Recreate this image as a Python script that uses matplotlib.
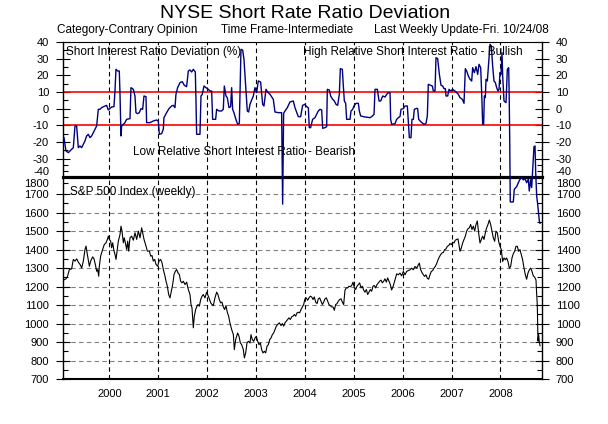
import matplotlib
matplotlib.use("Agg")
import matplotlib.pyplot as plt
from matplotlib.ticker import FuncFormatter
import numpy as np

plt.rcParams['font.family'] = ['Liberation Sans', 'DejaVu Sans']

# short interest ratio deviation (%), weekly
dev_year = [
    1999.073, 1999.114, 1999.162, 1999.230, 1999.264, 1999.298, 1999.332, 1999.366, 1999.400, 1999.434,
    1999.468, 1999.502, 1999.536, 1999.571, 1999.605, 1999.639, 1999.673, 1999.707, 1999.741, 1999.775,
    1999.809, 1999.843, 1999.911, 1999.945, 1999.980, 2000.014, 2000.048, 2000.095, 2000.116, 2000.136,
    2000.170, 2000.204, 2000.218, 2000.239, 2000.252, 2000.286, 2000.320, 2000.354, 2000.423, 2000.443,
    2000.491, 2000.525, 2000.545, 2000.579, 2000.613, 2000.648, 2000.682, 2000.709, 2000.750, 2000.763,
    2000.832, 2000.900, 2000.968, 2001.002, 2001.023, 2001.070, 2001.104, 2001.118, 2001.172, 2001.220,
    2001.275, 2001.309, 2001.343, 2001.363, 2001.397, 2001.445, 2001.493, 2001.534, 2001.581, 2001.616,
    2001.650, 2001.684, 2001.718, 2001.759, 2001.772, 2001.786, 2001.854, 2001.875, 2001.902, 2001.936,
    2001.977, 2002.025, 2002.059, 2002.093, 2002.113, 2002.175, 2002.195, 2002.243, 2002.297, 2002.331,
    2002.352, 2002.386, 2002.413, 2002.447, 2002.481, 2002.502, 2002.522, 2002.549, 2002.584, 2002.624,
    2002.659, 2002.693, 2002.727, 2002.754, 2002.788, 2002.822, 2002.849, 2002.877, 2002.911, 2002.945,
    2002.979, 2003.013, 2003.047, 2003.095, 2003.136, 2003.163, 2003.204, 2003.238, 2003.286, 2003.354,
    2003.388, 2003.456, 2003.524, 2003.545, 2003.565, 2003.593, 2003.640, 2003.695, 2003.763, 2003.797,
    2003.865, 2003.913, 2003.954, 2004.001, 2004.035, 2004.070, 2004.090, 2004.117, 2004.158, 2004.206,
    2004.274, 2004.310, 2004.343, 2004.364, 2004.411, 2004.445, 2004.459, 2004.500, 2004.527, 2004.568,
    2004.602, 2004.636, 2004.670, 2004.704, 2004.725, 2004.766, 2004.786, 2004.807, 2004.834, 2004.854,
    2004.923, 2004.943, 2004.977, 2005.004, 2005.045, 2005.093, 2005.113, 2005.141, 2005.229, 2005.332,
    2005.366, 2005.414, 2005.434, 2005.482, 2005.516, 2005.550, 2005.591, 2005.639, 2005.673, 2005.707,
    2005.741, 2005.754, 2005.775, 2005.843, 2005.877, 2005.911, 2005.945, 2005.966, 2006.013, 2006.047,
    2006.095, 2006.122, 2006.136, 2006.170, 2006.190, 2006.218, 2006.238, 2006.286, 2006.306, 2006.327,
    2006.368, 2006.409, 2006.443, 2006.477, 2006.504, 2006.524, 2006.572, 2006.606, 2006.627, 2006.661,
    2006.681, 2006.715, 2006.750, 2006.784, 2006.818, 2006.845, 2006.872, 2006.886, 2006.920, 2006.947,
    2006.981, 2007.022, 2007.070, 2007.104, 2007.138, 2007.172, 2007.220, 2007.254, 2007.281, 2007.308,
    2007.343, 2007.377, 2007.411, 2007.431, 2007.465, 2007.499, 2007.534, 2007.561, 2007.595, 2007.615,
    2007.636, 2007.656, 2007.670, 2007.690, 2007.704, 2007.731, 2007.758, 2007.786, 2007.813, 2007.840,
    2007.867, 2007.895, 2007.922, 2007.949, 2007.970, 2007.990, 2008.011, 2008.031, 2008.045, 2008.072,
    2008.113, 2008.140, 2008.168, 2008.178, 2008.188, 2008.200, 2008.229, 2008.262, 2008.282, 2008.331,
    2008.365, 2008.399, 2008.433, 2008.467, 2008.501, 2008.535, 2008.569, 2008.589, 2008.617, 2008.638,
    2008.651, 2008.671, 2008.685, 2008.706, 2008.720, 2008.740, 2008.761, 2008.774, 2008.794, 2008.808,
]
dev_value = [
    -17.4, -25.4, -26.4, -24.4, -23.4, -10.4, -10.4, -23.4, -22.4, -23.4,
    -21.4, -19.4, -16.4, -15.4, -17.4, -16.4, -14.4, -12.4, -10.4, -0.4,
    -0.4, 0.6, 1.6, 2.0, -0.8, 0.2, 1.0, 1.2, 10.6, 23.6,
    22.6, 22.6, 9.6, -16.4, -10.4, -9.4, -8.4, -6.4, -6.0, 12.6,
    11.6, 7.6, -2.4, -3.0, -2.4, 0.0, -0.4, 7.6, 7.2, -8.4,
    -8.4, -7.4, -6.8, -7.4, -15.4, -15.0, -12.4, -5.4, -2.4, 0.0,
    1.6, 2.0, 0.6, 8.6, 12.6, 15.6, 16.2, 14.0, 13.2, 22.6,
    23.2, 22.0, 23.6, 22.0, 5.6, -15.4, -15.4, 7.6, 8.6, 13.6,
    12.6, 11.6, 10.6, 10.6, -6.4, -6.4, -0.4, -1.4, -1.4, -0.4,
    13.6, 7.6, 6.6, 0.6, 1.2, 12.6, -0.4, -2.4, -6.0, -9.4,
    -8.8, 35.6, 35.2, 29.6, 13.6, -1.4, -2.0, 2.6, 5.2, 7.6,
    12.6, 9.6, 16.6, 16.0, 2.6, 1.6, 11.6, 10.0, 8.6, 5.6,
    -2.0, -2.4, -2.4, -67.9, -2.8, -1.4, 0.6, 4.0, 4.6, 0.6,
    -4.8, -4.8, 2.0, 2.6, 1.2, 0.6, -11.4, -11.4, -6.4, -5.4,
    -1.4, -0.4, -0.8, -11.8, -11.4, -10.8, 11.6, 11.2, 7.6, 5.6,
    4.6, 2.6, 2.0, 8.6, 24.0, 23.6, 13.6, 4.6, 3.2, -6.4,
    -6.4, -1.4, -0.4, 1.6, 3.2, 3.2, -1.4, -4.4, -5.0, -5.4,
    -4.8, -3.4, 11.6, 11.6, 4.6, 4.6, 7.6, 7.0, 8.6, 9.6,
    9.6, -6.4, -9.4, -9.0, -6.4, -5.4, -4.8, -0.4, 0.0, 1.6,
    1.6, -11.4, -17.4, -17.4, -6.4, -6.4, -0.4, 0.2, 0.0, -6.4,
    -7.8, -8.8, -9.4, -8.8, -4.4, 14.6, 14.0, 13.6, 10.6, 10.6,
    30.6, 30.0, 20.6, 14.0, 13.6, 12.0, 12.0, 7.6, 7.6, 11.6,
    10.6, 11.6, 10.6, 9.6, 8.6, 6.6, 5.6, 3.2, 24.0, 22.6,
    19.6, 17.6, 16.6, 24.6, 21.6, 25.2, 20.6, 26.6, 24.6, 9.6,
    -9.4, -9.4, 7.6, 6.6, 17.6, 16.6, 27.6, 38.6, 37.6, 25.6,
    16.6, 15.6, 12.6, 10.6, 11.6, 21.6, 20.6, 33.6, 19.6, 4.6,
    3.6, 23.6, 24.6, 7.6, -16.4, -66.1, -66.1, -66.1, -55.6, -53.3,
    -50.0, -47.2, -45.8, -47.7, -46.7, -50.0, -47.2, -57.0, -47.2, -54.1,
    -44.5, -30.5, -22.8, -22.4, -41.6, -61.1, -68.1, -73.6, -81.9, -83.9,
]

# S&P 500 weekly close
spx_year = [
    1999.060, 1999.115, 1999.142, 1999.183, 1999.230, 1999.264, 1999.299, 1999.333, 1999.367, 1999.401,
    1999.435, 1999.469, 1999.503, 1999.524, 1999.551, 1999.592, 1999.619, 1999.660, 1999.687, 1999.714,
    1999.742, 1999.762, 1999.783, 1999.796, 1999.823, 1999.864, 1999.898, 1999.933, 1999.960, 1999.980,
    2000.001, 2000.028, 2000.048, 2000.069, 2000.096, 2000.117, 2000.137, 2000.164, 2000.185, 2000.219,
    2000.239, 2000.260, 2000.287, 2000.307, 2000.328, 2000.355, 2000.376, 2000.396, 2000.423, 2000.457,
    2000.491, 2000.526, 2000.560, 2000.594, 2000.628, 2000.662, 2000.682, 2000.710, 2000.751, 2000.778,
    2000.819, 2000.846, 2000.873, 2000.900, 2000.928, 2000.955, 2000.989, 2001.016, 2001.050, 2001.078,
    2001.105, 2001.139, 2001.160, 2001.187, 2001.214, 2001.241, 2001.268, 2001.296, 2001.323, 2001.350,
    2001.377, 2001.405, 2001.432, 2001.459, 2001.486, 2001.514, 2001.548, 2001.582, 2001.616, 2001.650,
    2001.671, 2001.691, 2001.718, 2001.739, 2001.766, 2001.787, 2001.814, 2001.841, 2001.869, 2001.896,
    2001.923, 2001.957, 2001.991, 2002.012, 2002.039, 2002.073, 2002.100, 2002.127, 2002.161, 2002.195,
    2002.222, 2002.249, 2002.277, 2002.304, 2002.331, 2002.358, 2002.386, 2002.413, 2002.440, 2002.467,
    2002.502, 2002.537, 2002.557, 2002.584, 2002.625, 2002.653, 2002.680, 2002.707, 2002.741, 2002.762,
    2002.789, 2002.816, 2002.843, 2002.877, 2002.898, 2002.925, 2002.953, 2002.980, 2003.007, 2003.034,
    2003.061, 2003.089, 2003.116, 2003.143, 2003.171, 2003.198, 2003.225, 2003.252, 2003.280, 2003.307,
    2003.334, 2003.361, 2003.389, 2003.416, 2003.443, 2003.477, 2003.511, 2003.539, 2003.566, 2003.593,
    2003.621, 2003.648, 2003.675, 2003.702, 2003.729, 2003.757, 2003.784, 2003.811, 2003.839, 2003.866,
    2003.893, 2003.920, 2003.948, 2003.975, 2004.002, 2004.029, 2004.057, 2004.084, 2004.111, 2004.139,
    2004.166, 2004.193, 2004.220, 2004.248, 2004.275, 2004.302, 2004.330, 2004.357, 2004.384, 2004.411,
    2004.439, 2004.466, 2004.493, 2004.520, 2004.548, 2004.575, 2004.602, 2004.629, 2004.657, 2004.684,
    2004.711, 2004.739, 2004.766, 2004.793, 2004.820, 2004.848, 2004.875, 2004.902, 2004.929, 2004.957,
    2004.984, 2005.011, 2005.038, 2005.066, 2005.093, 2005.120, 2005.148, 2005.175, 2005.202, 2005.229,
    2005.257, 2005.284, 2005.311, 2005.338, 2005.366, 2005.393, 2005.420, 2005.447, 2005.475, 2005.502,
    2005.529, 2005.557, 2005.584, 2005.611, 2005.638, 2005.666, 2005.693, 2005.720, 2005.747, 2005.774,
    2005.808, 2005.843, 2005.877, 2005.911, 2005.945, 2005.979, 2006.013, 2006.047, 2006.081, 2006.115,
    2006.149, 2006.183, 2006.217, 2006.251, 2006.286, 2006.320, 2006.340, 2006.367, 2006.395, 2006.422,
    2006.449, 2006.476, 2006.504, 2006.531, 2006.558, 2006.585, 2006.613, 2006.640, 2006.667, 2006.695,
    2006.722, 2006.749, 2006.776, 2006.804, 2006.831, 2006.858, 2006.885, 2006.913, 2006.940, 2006.967,
    2006.995, 2007.022, 2007.049, 2007.076, 2007.104, 2007.131, 2007.144, 2007.172, 2007.199, 2007.226,
    2007.254, 2007.281, 2007.308, 2007.335, 2007.363, 2007.390, 2007.417, 2007.444, 2007.472, 2007.499,
    2007.526, 2007.553, 2007.581, 2007.608, 2007.635, 2007.663, 2007.690, 2007.717, 2007.744, 2007.772,
    2007.799, 2007.826, 2007.853, 2007.881, 2007.908, 2007.935, 2007.962, 2007.990, 2008.017, 2008.044,
    2008.072, 2008.099, 2008.126, 2008.153, 2008.181, 2008.208, 2008.235, 2008.262, 2008.290, 2008.317,
    2008.344, 2008.371, 2008.399, 2008.426, 2008.453, 2008.481, 2008.508, 2008.535, 2008.562, 2008.590,
    2008.617, 2008.644, 2008.671, 2008.699, 2008.726, 2008.739, 2008.753, 2008.767, 2008.781, 2008.794,
    2008.808,
]
spx_value = [
    1235, 1242, 1253, 1292, 1296, 1347, 1338, 1350, 1332, 1320,
    1301, 1338, 1401, 1419, 1374, 1310, 1338, 1361, 1350, 1320,
    1283, 1292, 1256, 1310, 1365, 1401, 1428, 1437, 1455, 1473,
    1455, 1446, 1410, 1437, 1392, 1374, 1347, 1401, 1446, 1482,
    1527, 1500, 1437, 1464, 1437, 1401, 1446, 1392, 1464, 1473,
    1451, 1491, 1455, 1500, 1464, 1518, 1491, 1455, 1419, 1392,
    1392, 1365, 1368, 1338, 1347, 1320, 1310, 1338, 1347, 1329,
    1292, 1256, 1229, 1202, 1157, 1139, 1175, 1211, 1265, 1283,
    1292, 1274, 1265, 1229, 1220, 1229, 1211, 1224, 1184, 1157,
    1103, 1085, 977, 1040, 1076, 1090, 1103, 1094, 1130, 1148,
    1157, 1139, 1170, 1157, 1139, 1112, 1103, 1097, 1139, 1170,
    1157, 1130, 1112, 1116, 1090, 1076, 1097, 1061, 1040, 1004,
    968, 940, 859, 913, 949, 931, 895, 886, 859, 814,
    841, 895, 904, 895, 940, 913, 904, 922, 931, 904,
    886, 895, 859, 841, 850, 841, 877, 886, 913, 922,
    940, 949, 968, 986, 995, 1004, 989, 1000, 986, 1004,
    1013, 1022, 1031, 1022, 1036, 1040, 1049, 1040, 1058, 1061,
    1058, 1076, 1090, 1103, 1134, 1139, 1126, 1139, 1148, 1144,
    1130, 1144, 1116, 1108, 1134, 1139, 1121, 1103, 1116, 1134,
    1139, 1121, 1103, 1097, 1090, 1090, 1072, 1103, 1108, 1121,
    1130, 1134, 1116, 1103, 1181, 1193, 1193, 1202, 1199, 1206,
    1224, 1193, 1184, 1202, 1211, 1220, 1193, 1202, 1181, 1170,
    1184, 1157, 1170, 1184, 1175, 1202, 1206, 1193, 1211, 1220,
    1229, 1235, 1220, 1229, 1242, 1224, 1247, 1229, 1211, 1182,
    1204, 1236, 1269, 1264, 1273, 1258, 1282, 1264, 1282, 1287,
    1291, 1300, 1291, 1309, 1300, 1318, 1327, 1291, 1276, 1264,
    1255, 1264, 1245, 1240, 1264, 1282, 1287, 1300, 1309, 1324,
    1345, 1360, 1373, 1382, 1385, 1400, 1404, 1418, 1422, 1433,
    1427, 1440, 1436, 1451, 1455, 1458, 1436, 1391, 1409, 1436,
    1455, 1473, 1500, 1513, 1518, 1536, 1509, 1527, 1500, 1536,
    1555, 1491, 1436, 1455, 1473, 1455, 1491, 1518, 1536, 1560,
    1536, 1500, 1464, 1445, 1500, 1491, 1445, 1418, 1400, 1336,
    1355, 1345, 1355, 1336, 1300, 1309, 1355, 1378, 1391, 1418,
    1418, 1391, 1400, 1373, 1345, 1300, 1264, 1240, 1273, 1291,
    1300, 1282, 1258, 1251, 1236, 1164, 1100, 905, 940, 900,
    880,
]

year_ticks = [2000, 2001, 2002, 2003, 2004, 2005, 2006, 2007, 2008]
dev_ticks = [40, 30, 20, 10, 0, -10, -20, -30]
dev_minor = [35, 25, 15, 5, -5, -15, -25, -35, -40]
spx_ticks = [700, 800, 900, 1000, 1100, 1200, 1300, 1400, 1500, 1600, 1700]
spx_minor = [750, 850, 950, 1050, 1150, 1250, 1350, 1450, 1550, 1650, 1800]


# the bottom of the upper panel and the top of the lower one are squeezed
def dev_fwd(v):
    v = np.asarray(v, dtype=float)
    return np.where(v >= -30, v, -30 + (v + 30) * 0.72)


def dev_inv(t):
    t = np.asarray(t, dtype=float)
    return np.where(t >= -30, t, -30 + (t + 30) / 0.72)


def spx_fwd(v):
    v = np.asarray(v, dtype=float)
    return np.where(v <= 1700, v, 1700 + (v - 1700) * 0.63)


def spx_inv(t):
    t = np.asarray(t, dtype=float)
    return np.where(t <= 1700, t, 1700 + (t - 1700) / 0.63)


W, H = 608, 424
L, R = 63, 542
top1, mid, bot = 42, 177, 379

fig = plt.figure(figsize=(W / 100, H / 100), dpi=100)
ax2 = fig.add_axes([L / W, 1 - bot / H, (R - L) / W, (bot - mid) / H])
ax1 = fig.add_axes([L / W, 1 - mid / H, (R - L) / W, (mid - top1) / H], sharex=ax2)
ax1.set_zorder(3)
ax1.patch.set_visible(False)

dash = (0, (4, 3))

# upper panel
ax1.set_yscale('function', functions=(dev_fwd, dev_inv))
ax1.set_ylim(-45.3, 40)
ax1.axhline(10, color='#ff0000', lw=1.2, zorder=2)
ax1.axhline(-10, color='#ff0000', lw=1.2, zorder=2)
for yr in year_ticks:
    ax1.axvline(yr, color='black', lw=0.8, ls=dash, zorder=1)
ax1.plot(dev_year, dev_value, color='#000080', lw=1.0, clip_on=False, zorder=4)
ax1.set_yticks(dev_ticks)
ax1.set_yticklabels([str(t) for t in dev_ticks])
ax1.set_yticks(dev_minor, minor=True)
ax1.yaxis.set_minor_formatter(FuncFormatter(lambda v, p: '-40' if abs(v + 40) < 0.01 else ''))

# lower panel
ax2.set_yscale('function', functions=(spx_fwd, spx_inv))
ax2.set_ylim(700, 1847.6)
for v in spx_ticks[1:]:
    ax2.axhline(v, color='#808080', lw=0.8, ls=dash, zorder=1)
for yr in year_ticks:
    ax2.axvline(yr, color='black', lw=0.8, ls=dash, zorder=1)
ax2.plot(spx_year, spx_value, color='black', lw=0.8, zorder=3)
ax2.set_yticks(spx_ticks)
ax2.set_yticklabels([str(t) for t in spx_ticks])
ax2.set_yticks(spx_minor, minor=True)
ax2.yaxis.set_minor_formatter(FuncFormatter(lambda v, p: '1800' if abs(v - 1800) < 0.01 else ''))

ax2.set_xlim(1999.053, 2008.849)
ax2.set_xticks(year_ticks)
ax2.set_xticklabels([str(y) for y in year_ticks])
ax2.tick_params(axis='x', length=0, pad=7, labelsize=8)
ax1.tick_params(axis='x', bottom=False, labelbottom=False)

for ax in (ax1, ax2):
    ax.tick_params(axis='y', which='major', direction='inout', length=10, width=0.8,
                   left=True, right=True, labelleft=True, labelright=True,
                   labelsize=8, pad=5.0)
    ax.tick_params(axis='y', which='minor', direction='in', length=3.6, width=0.8,
                   left=True, right=True, labelleft=True, labelright=True,
                   labelsize=8, pad=10.0)
    ax.spines['left'].set_linewidth(1.0)
    ax.spines['right'].set_linewidth(1.0)

ax1.spines['top'].set_linewidth(0.8)
ax1.spines['bottom'].set_linewidth(2.3)
ax2.spines['top'].set_visible(False)
ax2.spines['bottom'].set_linewidth(1.5)


def px_text(x, y, s, **kw):
    fig.text(x / W, 1 - y / H, s, va='center', **kw)


px_text(305, 13.5, 'NYSE Short Rate Ratio Deviation', ha='center', fontsize=14)
px_text(57, 30, 'Category-Contrary Opinion', ha='left', fontsize=8.5)
px_text(221, 30, 'Time Frame-Intermediate', ha='left', fontsize=8.5)
px_text(374, 30, 'Last Weekly Update-Fri. 10/24/08', ha='left', fontsize=8.5)
px_text(66, 52.5, 'Short Interest Ratio Deviation (%)', ha='left', fontsize=8.5)
px_text(523, 52.5, 'High Relative Short Interest Ratio - Bullish', ha='right', fontsize=8.5)
px_text(133, 152, 'Low Relative Short Interest Ratio - Bearish', ha='left', fontsize=8.5)
px_text(70, 192, 'S&P 500 Index (weekly)', ha='left', fontsize=8.5)

fig.savefig('out.png', dpi=100)
